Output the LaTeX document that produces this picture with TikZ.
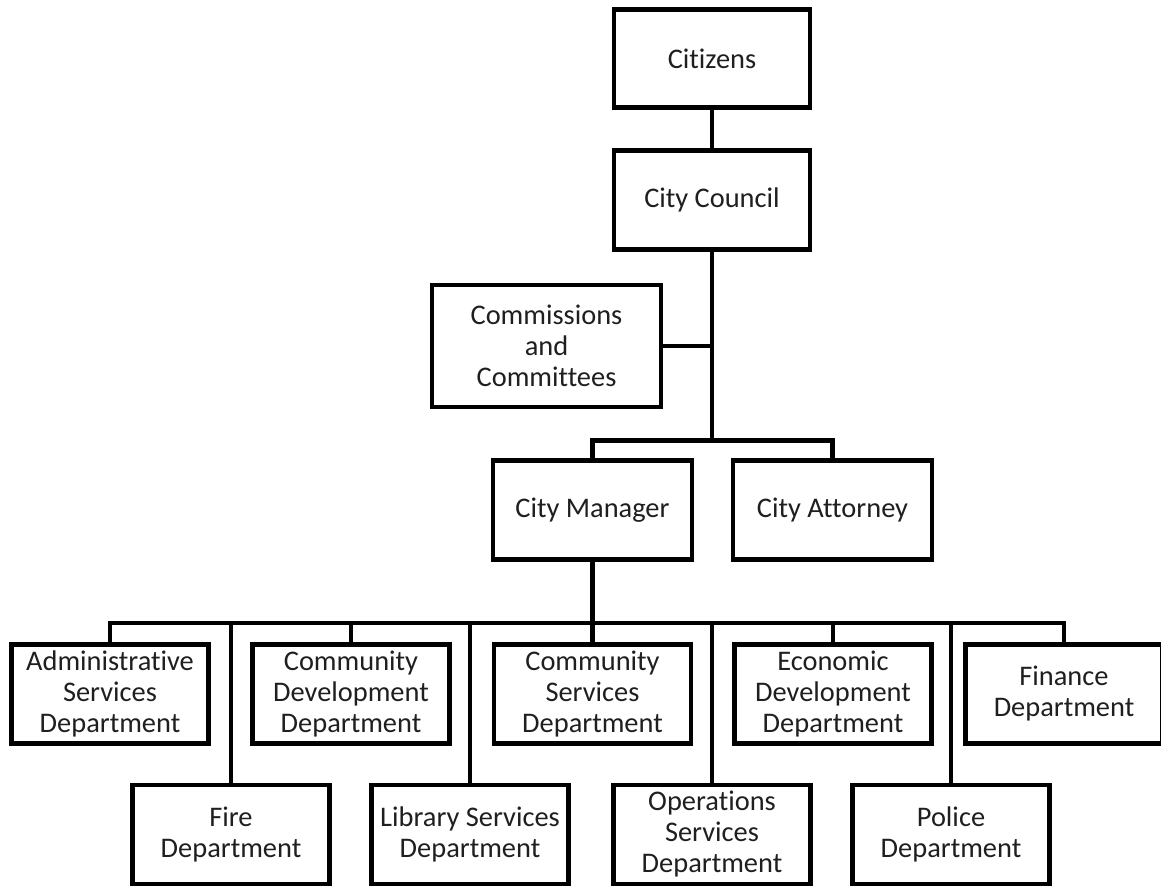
\documentclass[tikz,border=0pt]{standalone}
\usepackage{fontspec}
\setmainfont{Carlito}[RawFeature={-liga}]
\begin{document}
\begin{tikzpicture}[x=0.5pt,y=-0.5pt,
  box/.style={draw=black, line width=2.4pt, fill=white, align=center, inner sep=1pt,
    font=\fontsize{14.2pt}{15.5pt}\selectfont, text=black!88},
  dept/.style={box, minimum width=98.5pt, minimum height=49.5pt},
  conn/.style={line width=2.4pt, line join=miter}]
\useasboundingbox (0,0) rectangle (1161,887);
\fill[white] (0,0) rectangle (1161,887);
\clip (0,0) rectangle (1161,887);

% top chain
\node[box, minimum width=98pt, minimum height=48.75pt] (cit) at (712,58.5) {Citizens};
\node[box, minimum width=98pt, minimum height=49.5pt] (council) at (712,200) {City Council};
\node[box, minimum width=114.5pt, minimum height=61pt] (comm) at (546.5,346) {Commissions\\and\\Committees};
\node[box, minimum width=99.5pt, minimum height=49.5pt] (cm) at (592.5,510) {City Manager};
\node[box, minimum width=99.5pt, minimum height=49.5pt] (att) at (832.5,510) {City Attorney};

\coordinate (j1) at (712,440.5);
\coordinate (j2) at (592.5,623);

% departments, upper row
\node[dept] (adm) at (110,694) {Administrative\\Services\\Department};
\node[dept] (cdev) at (351,694) {Community\\Development\\Department};
\node[dept] (csrv) at (592.5,694) {Community\\Services\\Department};
\node[dept] (econ) at (833,694) {Economic\\Development\\Department};
\node[dept] (fin) at (1064,694) {Finance\\Department};

% departments, lower row
\node[dept] (fire) at (231,834.5) {Fire\\Department};
\node[dept] (lib) at (470,834.5) {Library Services\\Department};
\node[dept] (ops) at (712,834.5) {Operations\\Services\\Department};
\node[dept] (pol) at (951,834.5) {Police\\Department};

% connectors
\draw[conn] (cit) -- (council);
\draw[conn] (council.south) -- (j1);
\draw[conn] (comm.east) -- (comm.east -| j1);
\draw[conn] (cm.north) |- (j1) -| (att.north);
\draw[conn] (cm.south) -- (j2);
\draw[conn] (adm.north) |- (j2) -| (fin.north);
\draw[conn] (cdev.north) -- (cdev.north |- j2);
\draw[conn] (csrv.north) -- (csrv.north |- j2);
\draw[conn] (econ.north) -- (econ.north |- j2);
\draw[conn] (fire.north) -- (fire.north |- j2);
\draw[conn] (lib.north) -- (lib.north |- j2);
\draw[conn] (ops.north) -- (ops.north |- j2);
\draw[conn] (pol.north) -- (pol.north |- j2);
\end{tikzpicture}
\end{document}
